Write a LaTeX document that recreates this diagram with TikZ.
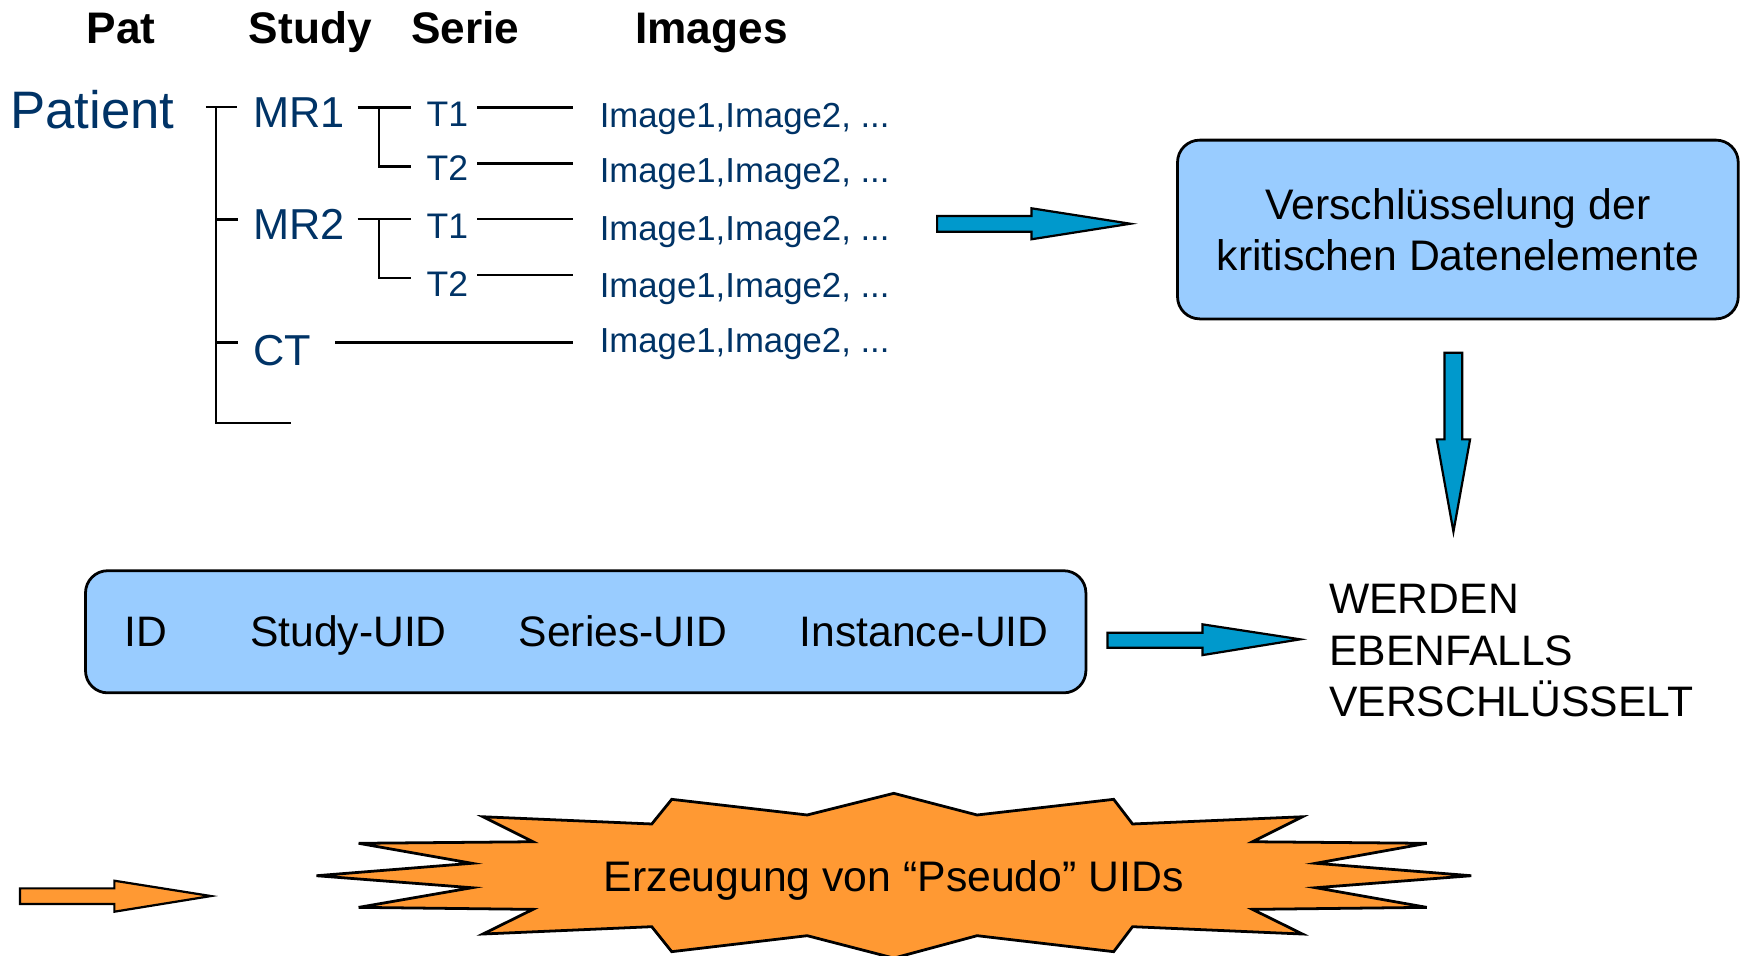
\documentclass[tikz,border=0pt]{standalone}
\usepackage{fontspec}
\setmainfont{Liberation Sans}
\definecolor{navy}{HTML}{003366}
\definecolor{boxblue}{HTML}{99CCFF}
\definecolor{arrowblue}{HTML}{0099CC}
\definecolor{burst}{HTML}{FF9933}
\tikzset{
  head/.style={font=\bfseries\fontsize{39.8}{46}\selectfont, anchor=base west, inner sep=0pt},
  treetxt/.style={text=navy, anchor=base west, inner sep=0pt},
  plain/.style={font=\fontsize{38.4}{46.5}\selectfont, anchor=base west, inner sep=0pt},
  treeline/.style={line width=2.4pt},
  roundbox/.style={draw, line width=2.5pt, fill=boxblue, rounded corners=20pt, inner sep=0pt},
  blockarrow/.style={draw, line width=2pt, fill=arrowblue, line join=miter},
  orangearrow/.style={blockarrow, fill=burst},
  burstshape/.style={draw, line width=2.5pt, fill=burst, line join=miter}
}
\begin{document}
\begin{tikzpicture}[x=1pt, y=-1pt]
\useasboundingbox (0,0) rectangle (1568,861);

% column headings
\node[head] (hPat)    at (78,39)  {Pat};
\node[head] (hStudy)  at (224,39) {Study};
\node[head] (hSerie)  at (370,39) {Serie};
\node[head] (hImages) at (572,39) {Images};

% hierarchy labels
\node[treetxt, font=\fontsize{47.5}{50}\selectfont] (patient) at (9,115.6) {Patient};
\node[treetxt, font=\fontsize{39}{46}\selectfont] (mr1) at (228,115)   {MR1};
\node[treetxt, font=\fontsize{39}{46}\selectfont] (mr2) at (228,216)   {MR2};
\node[treetxt, font=\fontsize{39}{46}\selectfont] (ct)  at (228,328.8) {CT};
\node[treetxt, font=\fontsize{32}{40}\selectfont] (t11) at (384,113.5) {T1};
\node[treetxt, font=\fontsize{32}{40}\selectfont] (t12) at (384,163)   {T2};
\node[treetxt, font=\fontsize{32}{40}\selectfont] (t21) at (384,214.6) {T1};
\node[treetxt, font=\fontsize{32}{40}\selectfont] (t22) at (384,267.2) {T2};
\node[treetxt, font=\fontsize{31.3}{38}\selectfont] (img1) at (540,115)   {Image1,Image2, ...};
\node[treetxt, font=\fontsize{31.3}{38}\selectfont] (img2) at (540,164.5) {Image1,Image2, ...};
\node[treetxt, font=\fontsize{31.3}{38}\selectfont] (img3) at (540,216.2) {Image1,Image2, ...};
\node[treetxt, font=\fontsize{31.3}{38}\selectfont] (img4) at (540,268)   {Image1,Image2, ...};
\node[treetxt, font=\fontsize{31.3}{38}\selectfont] (img5) at (540,317.6) {Image1,Image2, ...};

% tree junction points
\coordinate (pTickL) at (185.5,96.5);
\coordinate (pTop)   at (194.5,96.5);
\coordinate (pTickR) at (213,96.5);
\coordinate (pMr2)   at (194.5,197.5);
\coordinate (pMr2R)  at (214,197.5);
\coordinate (pCt)    at (194.5,308.5);
\coordinate (pCtR)   at (214,308.5);
\coordinate (pBot)   at (194.5,381);
\coordinate (pBotR)  at (262,381);

\coordinate (s1a) at (322,96.7);
\coordinate (s1j) at (341.3,96.7);
\coordinate (s1b) at (370,96.7);
\coordinate (s1d) at (341.3,150);
\coordinate (s1e) at (370,150);
\coordinate (s2a) at (322,197.2);
\coordinate (s2j) at (341.3,197.2);
\coordinate (s2b) at (370,197.2);
\coordinate (s2d) at (341.3,250.5);
\coordinate (s2e) at (370,250.5);

\coordinate (l1a) at (430,96.7);  \coordinate (l1b) at (516,96.7);
\coordinate (l2a) at (430,147.1); \coordinate (l2b) at (516,147.1);
\coordinate (l3a) at (430,197.2); \coordinate (l3b) at (516,197.2);
\coordinate (l4a) at (430,247.7); \coordinate (l4b) at (516,247.7);
\coordinate (l5a) at (302,308.3); \coordinate (l5b) at (516,308.3);

% tree lines
\draw[treeline] (pTickL) -- (pTickR);
\draw[treeline] (pTop) -- (pBot) -- (pBotR);
\draw[treeline] (pMr2) -- (pMr2R);
\draw[treeline] (pCt) -- (pCtR);
\draw[treeline] (s1a) -- (s1b);
\draw[treeline] (s1j) -- (s1d) -- (s1e);
\draw[treeline] (s2a) -- (s2b);
\draw[treeline] (s2j) -- (s2d) -- (s2e);
\draw[treeline] (l1a) -- (l1b);
\draw[treeline] (l2a) -- (l2b);
\draw[treeline] (l3a) -- (l3b);
\draw[treeline] (l4a) -- (l4b);
\draw[treeline] (l5a) -- (l5b);

% encryption box
\node[roundbox, minimum width=505, minimum height=161, align=center,
      font=\fontsize{38.5}{46}\selectfont] (crypt) at (1313,206.7)
      {Verschlüsselung der\\kritischen Datenelemente};

% UID box
\node[roundbox, minimum width=901, minimum height=110] (uidbox) at (527.5,569) {};
\node[plain] (uidId)  at (112,582.7) {ID};
\node[plain] (uidSt)  at (225,582.7) {Study-UID};
\node[plain] (uidSe)  at (467,582.7) {Series-UID};
\node[plain] (uidIn)  at (720,582.7) {Instance-UID};

% result text (base anchor sits on the last line)
\node[plain, align=left] (also) at (1197,645.5) {WERDEN\\EBENFALLS\\VERSCHLÜSSELT};

% block arrows
\draw[blockarrow] (844,194.5) -- (929,194.5) -- (929,187.6) -- (1018,201.5)
   -- (929,215.5) -- (929,208.7) -- (844,208.7) -- cycle;
\draw[blockarrow] (1301,317.6) -- (1317,317.6) -- (1317,395.7) -- (1324,395.7)
   -- (1309,478.8) -- (1294,395.7) -- (1301,395.7) -- cycle;
\draw[blockarrow] (997.4,569.8) -- (1083,569.8) -- (1083,562.3) -- (1171,575.8)
   -- (1083,590) -- (1083,583.3) -- (997.4,583.3) -- cycle;
\draw[orangearrow] (18,800.1) -- (103,800.1) -- (103,793.2) -- (190,807)
   -- (103,821.1) -- (103,814.2) -- (18,814.2) -- cycle;

% starburst
\draw[burstshape] (805,714.5) -- (880,734) -- (1003,719.9) -- (1020,742.1)
  -- (1173,735.6) -- (1128,758.1) -- (1285,759.5) -- (1185,777.5)
  -- (1325,788.7) -- (1185,799.5) -- (1285,817.2) -- (1128,819)
  -- (1173,841.2) -- (1020,834.6) -- (1003,857.1) -- (880,842.7)
  -- (805,862.9) -- (727,842.7) -- (605,857.1) -- (587,834.6)
  -- (435,841.2) -- (480,819) -- (323,817.2) -- (425,799.5)
  -- (285,788.7) -- (425,777.5) -- (323,759.5) -- (480,758.1)
  -- (435,735.6) -- (587,742.1) -- (605,719.9) -- (727,734) -- cycle;
\node[font=\fontsize{38.5}{46}\selectfont, anchor=base, inner sep=0pt] (pseudo) at (805,803)
  {Erzeugung von “Pseudo” UIDs};
\end{tikzpicture}
\end{document}
